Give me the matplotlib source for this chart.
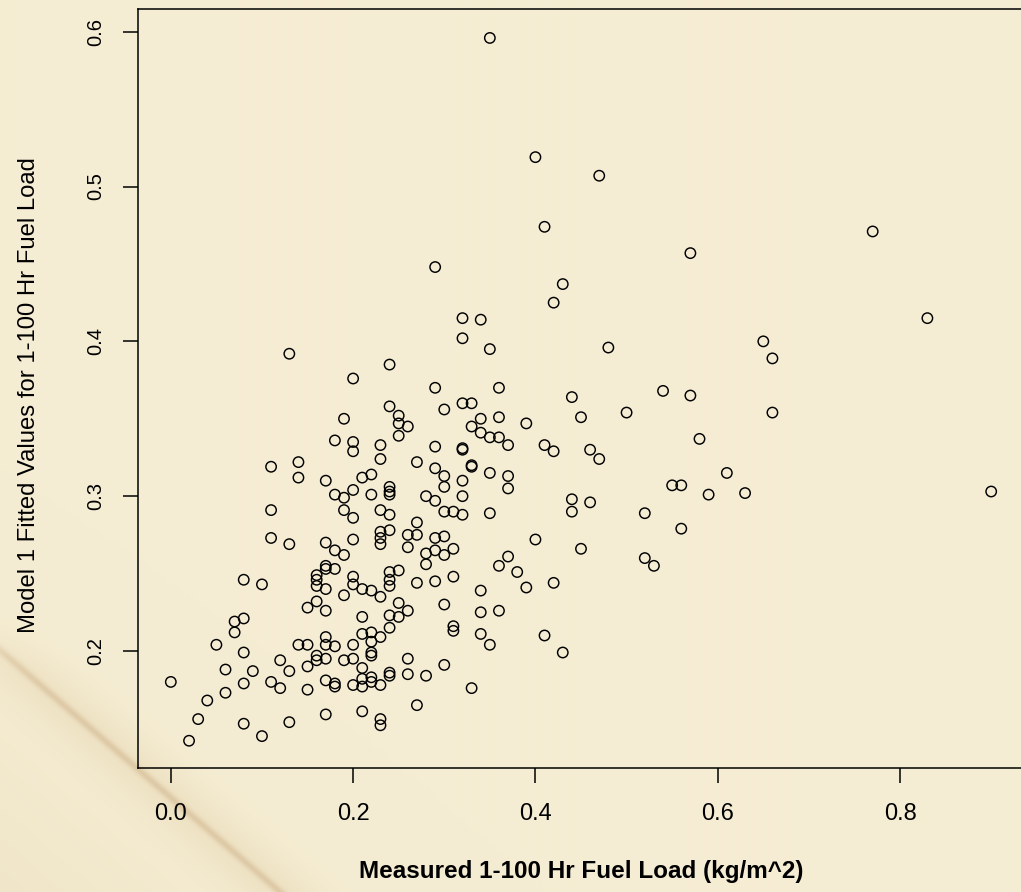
import numpy as np
import matplotlib
matplotlib.use("Agg")
import matplotlib.pyplot as plt

plt.rcParams['font.family'] = ['Liberation Sans', 'DejaVu Sans']

# ----------------------------------
# Data: measured vs fitted 1-100 hr fuel load
# ----------------------------------

measured = [
    0.35, 0.40, 0.47, 0.41, 0.57, 0.77, 0.65, 0.66, 0.83, 0.66, 0.61, 0.63, 0.90,
    0.29, 0.43, 0.42, 0.32, 0.34, 0.32, 0.35, 0.48, 0.29, 0.36, 0.44, 0.54, 0.57,
    0.32, 0.33, 0.30, 0.45, 0.50, 0.34, 0.36, 0.39, 0.33, 0.34, 0.35, 0.36, 0.37,
    0.29, 0.32, 0.32, 0.41, 0.42, 0.46, 0.47, 0.58, 0.29, 0.33, 0.33, 0.30, 0.35,
    0.37, 0.32, 0.30, 0.37, 0.55, 0.56, 0.59, 0.32, 0.29, 0.44, 0.46, 0.30, 0.31,
    0.32, 0.35, 0.44, 0.52, 0.56, 0.29, 0.30, 0.40, 0.45, 0.29, 0.31, 0.30, 0.37,
    0.36, 0.52, 0.53, 0.29, 0.31, 0.38, 0.39, 0.42, 0.34, 0.30, 0.34, 0.36, 0.31,
    0.31, 0.34, 0.35, 0.41, 0.43, 0.30, 0.33,
    0.11, 0.19, 0.20, 0.23, 0.24, 0.11, 0.13, 0.17, 0.18, 0.19, 0.20, 0.23, 0.23,
    0.23, 0.24, 0.26, 0.27, 0.27, 0.26, 0.28, 0.28, 0.08, 0.10, 0.16, 0.16, 0.16,
    0.17, 0.17, 0.18, 0.17, 0.20, 0.20, 0.21, 0.22, 0.23, 0.19, 0.24, 0.24, 0.24,
    0.25, 0.27, 0.16, 0.15, 0.17, 0.21, 0.24, 0.25, 0.26, 0.25, 0.24, 0.07, 0.08,
    0.07, 0.05, 0.08, 0.14, 0.15, 0.17, 0.17, 0.18, 0.20, 0.21, 0.22, 0.22, 0.23,
    0.22, 0.22, 0.16, 0.16, 0.17, 0.19, 0.20, 0.21, 0.26, 0.12, 0.15, 0.13, 0.06,
    0.09, 0.00, 0.08, 0.11, 0.12, 0.15, 0.17, 0.18, 0.18, 0.20, 0.21, 0.21, 0.22,
    0.22, 0.23, 0.24, 0.24, 0.26, 0.28, 0.06, 0.04, 0.03, 0.08, 0.13, 0.17, 0.21,
    0.23, 0.23, 0.27, 0.10, 0.02,
    0.13, 0.24, 0.20, 0.24, 0.25, 0.25, 0.26, 0.25, 0.19, 0.18, 0.20, 0.20, 0.23,
    0.23, 0.27, 0.11, 0.14, 0.14, 0.17, 0.21, 0.22, 0.20, 0.18, 0.19, 0.22, 0.24,
    0.24, 0.24, 0.28,
]

fitted = [
    0.596, 0.519, 0.507, 0.474, 0.457, 0.471, 0.400, 0.389, 0.415, 0.354, 0.315, 0.302, 0.303,
    0.448, 0.437, 0.425, 0.415, 0.414, 0.402, 0.395, 0.396, 0.370, 0.370, 0.364, 0.368, 0.365,
    0.360, 0.360, 0.356, 0.351, 0.354, 0.350, 0.351, 0.347, 0.345, 0.341, 0.338, 0.338, 0.333,
    0.332, 0.330, 0.331, 0.333, 0.329, 0.330, 0.324, 0.337, 0.318, 0.319, 0.320, 0.313, 0.315,
    0.313, 0.310, 0.306, 0.305, 0.307, 0.307, 0.301, 0.300, 0.297, 0.298, 0.296, 0.290, 0.290,
    0.288, 0.289, 0.290, 0.289, 0.279, 0.273, 0.274, 0.272, 0.266, 0.265, 0.266, 0.262, 0.261,
    0.255, 0.260, 0.255, 0.245, 0.248, 0.251, 0.241, 0.244, 0.239, 0.230, 0.225, 0.226, 0.216,
    0.213, 0.211, 0.204, 0.210, 0.199, 0.191, 0.176,
    0.291, 0.291, 0.286, 0.291, 0.288, 0.273, 0.269, 0.270, 0.265, 0.262, 0.272, 0.277, 0.273,
    0.269, 0.278, 0.275, 0.275, 0.283, 0.267, 0.263, 0.256, 0.246, 0.243, 0.249, 0.246, 0.242,
    0.255, 0.253, 0.253, 0.240, 0.248, 0.243, 0.240, 0.239, 0.235, 0.236, 0.251, 0.246, 0.242,
    0.252, 0.244, 0.232, 0.228, 0.226, 0.222, 0.223, 0.231, 0.226, 0.222, 0.215, 0.219, 0.221,
    0.212, 0.204, 0.199, 0.204, 0.204, 0.209, 0.204, 0.203, 0.204, 0.211, 0.212, 0.206, 0.209,
    0.199, 0.197, 0.197, 0.194, 0.195, 0.194, 0.195, 0.189, 0.195, 0.194, 0.190, 0.187, 0.188,
    0.187, 0.180, 0.179, 0.180, 0.176, 0.175, 0.181, 0.179, 0.177, 0.178, 0.182, 0.177, 0.183,
    0.180, 0.178, 0.186, 0.184, 0.185, 0.184, 0.173, 0.168, 0.156, 0.153, 0.154, 0.159, 0.161,
    0.156, 0.152, 0.165, 0.145, 0.142,
    0.392, 0.385, 0.376, 0.358, 0.352, 0.347, 0.345, 0.339, 0.350, 0.336, 0.335, 0.329, 0.333,
    0.324, 0.322, 0.319, 0.322, 0.312, 0.310, 0.312, 0.314, 0.304, 0.301, 0.299, 0.301, 0.306,
    0.303, 0.301, 0.300,
]

x_ticks = [0.0, 0.2, 0.4, 0.6, 0.8]
y_ticks = [0.2, 0.3, 0.4, 0.5, 0.6]

# ----------------------------------
# Parchment background
# ----------------------------------

fig = plt.figure(figsize=(10.21, 8.92), dpi=100)

H, W = 892, 1021
yy, xx = np.mgrid[0:H, 0:W].astype(float)
base = np.array([245, 237, 211]) / 255
tan = np.array([225, 203, 163]) / 255
crease = np.array([190, 155, 110]) / 255

# signed distance to a diagonal fold in the lower left corner
d = (xx * 242 - (yy - 650) * 280) / 370.0
fade = 1 / (1 + np.exp(-(yy - 640) / 15))
w_glow = 0.30 * np.exp(-(d / 30) ** 2) * fade
w_corner = 0.25 * np.clip(-d / 200, 0, 1) * fade
w_tan = np.clip(w_glow + w_corner, 0, 0.6)
w_crease = 0.35 * np.exp(-(d / 4) ** 2) * fade

img = base * (1 - w_tan[..., None]) + tan * w_tan[..., None]
img = img * (1 - w_crease[..., None]) + crease * w_crease[..., None]

bg = fig.add_axes([0, 0, 1, 1])
bg.imshow(img, aspect='auto', interpolation='bilinear')
bg.axis('off')

# ----------------------------------
# Scatter plot
# ----------------------------------

ax = fig.add_axes([138 / 1021, 124 / 892, 886 / 1021, 759 / 892])
ax.set_facecolor('none')

ax.scatter(measured, fitted, s=56, facecolors='none', edgecolors='black', linewidths=1.05)

ax.set_xlim(-0.036, 0.936)
ax.set_ylim(0.1244, 0.6147)

ax.set_xticks(x_ticks)
ax.set_xticklabels([f'{v:.1f}' for v in x_ticks], fontsize=17)
ax.set_yticks(y_ticks)
ax.set_yticklabels([f'{v:.1f}' for v in y_ticks], fontsize=14.5, rotation=90, ha='center', va='center')

ax.tick_params(axis='both', length=11, width=1.1, color='black')
ax.tick_params(axis='x', pad=14.4)
ax.tick_params(axis='y', pad=19.5)

for sp in ax.spines.values():
    sp.set_linewidth(1.1)

ax.set_xlabel('Measured 1-100 Hr Fuel Load (kg/m^2)', fontsize=17.5, fontweight='bold', va='center')
ax.xaxis.set_label_coords(0.5, -0.137)
ax.set_ylabel('Model 1 Fitted Values for 1-100 Hr Fuel Load', fontsize=17.2, va='center')
ax.yaxis.set_label_coords(-0.123, 0.492)

fig.savefig('out.png', dpi=100)
